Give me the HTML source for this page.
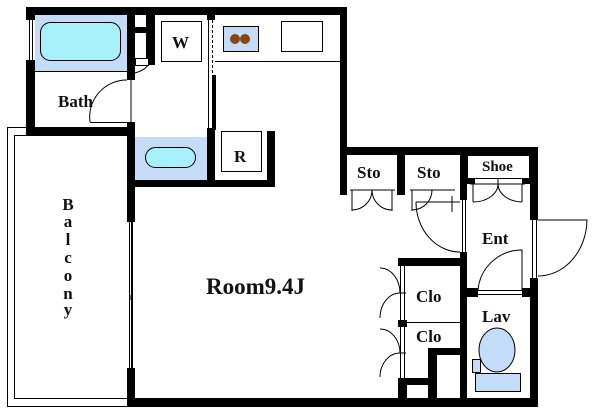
<!DOCTYPE html>
<html><head><meta charset="utf-8"><style>html,body{margin:0;padding:0;background:#fff}svg{display:block}text{font-family:"Liberation Serif",serif;font-weight:bold;fill:#111}</style></head><body>
<svg width="600" height="413" viewBox="0 0 600 413" xmlns="http://www.w3.org/2000/svg">
<rect x="7.5" y="127.5" width="124" height="279" fill="#fff" stroke="#000"/>
<rect x="14.5" y="135.5" width="117" height="263" fill="#fff" stroke="#000"/>
<rect x="35" y="15" width="92" height="56" fill="#c4dcf8"/>
<rect x="40.5" y="22.5" width="80" height="38" rx="10" fill="#a8f0fa" stroke="#000"/>
<line x1="35" y1="71.5" x2="127" y2="71.5" stroke="#000"/>
<rect x="135" y="137" width="72" height="43" fill="#c4dcf8"/>
<rect x="145.5" y="147.5" width="50" height="20" rx="10" fill="#a8f0fa" stroke="#000"/>
<line x1="215" y1="61.5" x2="340" y2="61.5" stroke="#000"/>
<rect x="223.5" y="26.5" width="35" height="25" fill="#c4dcf8" stroke="#000"/>
<circle cx="235" cy="39" r="5" fill="#8b4513"/><circle cx="245" cy="39" r="5" fill="#8b4513"/>
<rect x="281.5" y="21.5" width="41" height="30" fill="#fff" stroke="#000"/>
<rect x="161.5" y="21.5" width="40" height="40" fill="#fff" stroke="#000"/>
<rect x="221.5" y="131.5" width="40" height="40" fill="#fff" stroke="#000"/>
<g fill="#000">
<rect x="26" y="7" width="321" height="8"/>
<rect x="26" y="7" width="9" height="13"/><rect x="26" y="60" width="9" height="75"/>
<rect x="26" y="127" width="109" height="8"/>
<rect x="127" y="15" width="8" height="65"/><rect x="127" y="122" width="8" height="13"/>
<rect x="146" y="15" width="9" height="50"/>
<rect x="135" y="27" width="12" height="6"/>
<rect x="212" y="75" width="4" height="55"/><rect x="207" y="128" width="8" height="52"/>
<rect x="207" y="15" width="8" height="5"/>
<rect x="127" y="180" width="148" height="7"/><rect x="267" y="131" width="8" height="56"/>
<rect x="340" y="7" width="7" height="188"/>
<rect x="127" y="135" width="8" height="87"/><rect x="127" y="368" width="8" height="39"/>
<rect x="127" y="398" width="411" height="9"/>
<rect x="340" y="147" width="198" height="8"/>
<rect x="340" y="155" width="7" height="40"/>
<rect x="397" y="155" width="8" height="40"/>
<rect x="460" y="155" width="7" height="45"/><rect x="460" y="252" width="7" height="153"/>
<rect x="530" y="155" width="8" height="65"/><rect x="530" y="278" width="8" height="127"/>
<rect x="398" y="258" width="69" height="8"/>
<rect x="398" y="258" width="9" height="8"/><rect x="398" y="320" width="9" height="7"/><rect x="398" y="378" width="9" height="27"/>
<rect x="407" y="378" width="21" height="7"/>
<rect x="428" y="348" width="9" height="55"/><rect x="428" y="348" width="32" height="7"/>
<rect x="460" y="288" width="18" height="9"/><rect x="522" y="288" width="16" height="9"/>
<rect x="467" y="178" width="8" height="6"/><rect x="522" y="178" width="8" height="6"/>
</g>
<g fill="none" stroke="#000">
<line x1="29.5" y1="20" x2="29.5" y2="60"/><line x1="32.5" y1="20" x2="32.5" y2="60"/>
<line x1="129.5" y1="222" x2="129.5" y2="368"/><line x1="132.5" y1="222" x2="132.5" y2="368"/>
<line x1="130" y1="295" x2="130" y2="300"/>
<line x1="208.5" y1="20" x2="208.5" y2="128"/><line x1="212.5" y1="20" x2="212.5" y2="75" stroke-dasharray="3,2"/>
<line x1="131" y1="80" x2="131" y2="122"/>
<line x1="90" y1="122.5" x2="127" y2="122.5"/>
<path d="M90 122 A37 37 0 0 1 127 80"/>
<rect x="135.5" y="58.5" width="13" height="7" fill="#fff"/>
<path d="M135 73 Q145 70 148 65"/>
<line x1="350" y1="190" x2="395" y2="190"/><path d="M352 210 A20 20 0 0 0 372 190 A20 20 0 0 0 392 210"/><line x1="352" y1="190" x2="352" y2="211"/><line x1="392" y1="190" x2="392" y2="211"/>
<line x1="410" y1="190" x2="455" y2="190"/><path d="M412 210 A20 20 0 0 0 432 190"/><line x1="412" y1="190" x2="412" y2="211"/><line x1="452" y1="196" x2="452" y2="212"/>
<line x1="470" y1="184" x2="525" y2="184"/><path d="M473 202 A25 18 0 0 0 498 184 A25 18 0 0 0 522 202"/><line x1="473" y1="184" x2="473" y2="202"/><line x1="522" y1="184" x2="522" y2="202"/>
<line x1="498" y1="178" x2="498" y2="184"/>
<rect x="467.5" y="155.5" width="62" height="23" fill="#fff"/>
<line x1="416" y1="202" x2="460" y2="202"/><path d="M416 202 A44 50 0 0 0 460 252"/>
<line x1="462.5" y1="200" x2="462.5" y2="252"/><line x1="465.5" y1="200" x2="465.5" y2="252"/>
<line x1="532.5" y1="220" x2="532.5" y2="278"/><line x1="536.5" y1="220" x2="536.5" y2="278"/>
<path d="M538 220 L587 220 A49 57 0 0 1 538 276"/>
<line x1="478" y1="290.5" x2="522" y2="290.5"/><line x1="478" y1="294.5" x2="522" y2="294.5"/>
<path d="M478 290 A44 44 0 0 1 522 250 L522 290"/>
<line x1="407" y1="322.5" x2="460" y2="322.5"/>
<line x1="400.5" y1="266" x2="400.5" y2="320"/><line x1="404.5" y1="266" x2="404.5" y2="320"/>
<line x1="400.5" y1="327" x2="400.5" y2="378"/><line x1="404.5" y1="327" x2="404.5" y2="378"/>
<path d="M380 268 A20 25 0 0 1 400 293 A20 25 0 0 0 380 318"/>
<path d="M380 329 A20 24 0 0 1 400 353 A20 24 0 0 0 380 377"/>
<line x1="400" y1="293" x2="406" y2="293"/><line x1="400" y1="353" x2="406" y2="353"/>
</g>
<g fill="#c4dcf8" stroke="#000">
<rect x="475.5" y="373.5" width="45" height="18"/>
<ellipse cx="497" cy="350" rx="18" ry="22"/>
<rect x="472.5" y="359.5" width="8" height="13"/>
</g>
<g font-size="17">
<text x="58" y="107">Bath</text>
<text x="172" y="48">W</text>
<text x="234" y="162">R</text>
<text x="357" y="178">Sto</text>
<text x="417" y="178">Sto</text>
<text x="482" y="171" font-weight="normal" font-size="15">Shoe</text>
<text x="482" y="244">Ent</text>
<text x="416" y="302">Clo</text>
<text x="416" y="342">Clo</text>
<text x="482" y="322">Lav</text>
<text x="206" y="294" font-size="23" font-weight="normal">Room9.4J</text>
</g>
<g font-size="17" text-anchor="middle">
<text x="68" y="210">B</text><text x="68" y="227">a</text><text x="68" y="245">l</text><text x="68" y="263">c</text><text x="68" y="281">o</text><text x="68" y="299">n</text><text x="68" y="315">y</text>
</g>
</svg>
</body></html>
